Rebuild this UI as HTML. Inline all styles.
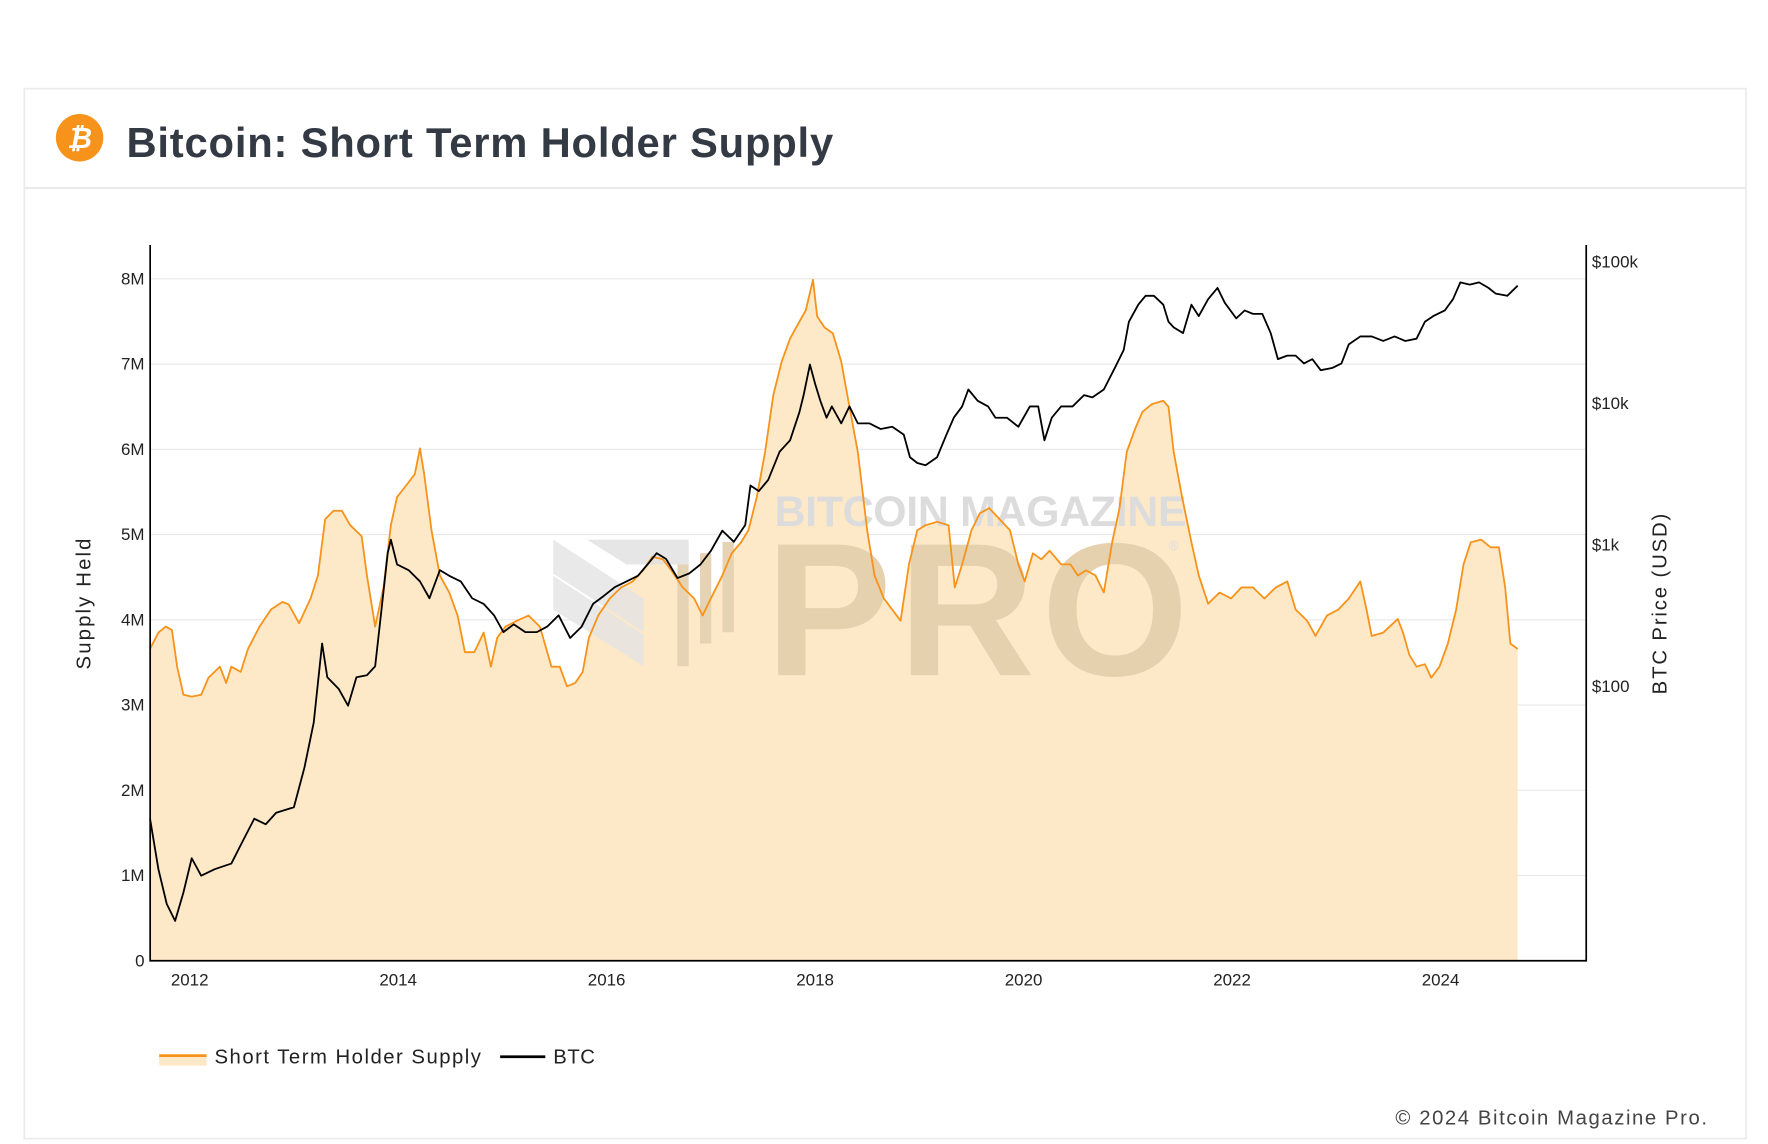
<!DOCTYPE html>
<html><head><meta charset="utf-8"><style>
html,body{margin:0;padding:0;background:#fff;}
svg{display:block;font-family:"Liberation Sans",sans-serif;}
</style></head><body>
<svg id="chart" width="1768" height="1144" viewBox="0 0 1566 1013.3" xmlns="http://www.w3.org/2000/svg">
<rect x="0" y="0" width="1566" height="1014" fill="#fff"/>
<rect x="21.5" y="78.5" width="1525" height="930" fill="#fff" stroke="#ebebeb" stroke-width="1.5"/>
<line x1="22" y1="166.5" x2="1546" y2="166.5" stroke="#ebebeb" stroke-width="2"/>
<g>
<circle cx="70.5" cy="122" r="21" fill="#f7931a"/>
<text x="70.5" y="131" text-anchor="middle" font-size="25" font-weight="bold" fill="#fff" font-style="italic">₿</text>
</g>
<text x="112" y="139" font-size="37" font-weight="bold" fill="#333a44" textLength="626">Bitcoin: Short Term Holder Supply</text>
<g id="grid"></g>
<g id="areaLayer"></g>
<g id="watermark">
<polygon points="490,478 570,530 570,560 490,508" fill="#e3e3e3" opacity="0.8"/>
<polygon points="490,510 570,562 570,590 490,540" fill="#e3e3e3" opacity="0.8"/>
<polygon points="520,478 610,478 610,500 555,500" fill="#e0e0e0" opacity="0.8"/>
<rect x="600" y="500" width="10" height="90" fill="#e6d3b3"/>
<rect x="620" y="490" width="10" height="80" fill="#e6d3b3"/>
<rect x="640" y="480" width="10" height="80" fill="#e6d3b3"/>
<text x="686" y="466" font-size="38" font-weight="bold" fill="#dcdcdc" textLength="365">BITCOIN MAGAZINE</text>
<text x="678" y="598" font-size="168" font-weight="bold" fill="#e6d1ae" textLength="375">PRO</text>
<text x="1035" y="487" font-size="12" fill="#ddd">®</text>
</g>
<g id="plot"></g>
<g id="axes"></g>
<g>
<g>
<rect x="141" y="936" width="42" height="8" fill="#fde8c8"/>
<line x1="141" y1="935" x2="183" y2="935" stroke="#f7931a" stroke-width="2.5"/>
<text x="190" y="942" font-size="18" fill="#222" textLength="236">Short Term Holder Supply</text>
</g>
<g>
<line x1="443" y1="936" x2="483" y2="936" stroke="#000" stroke-width="2.5"/>
<text x="490" y="942" font-size="18" fill="#222" textLength="37">BTC</text>
</g>
</g>
<text x="1236" y="996" font-size="18" fill="#444" textLength="276">© 2024 Bitcoin Magazine Pro.</text>
</svg>
<script>
const supplyDates=[2011.62,2011.70,2011.77,2011.83,2011.88,2011.94,2012.02,2012.11,2012.18,2012.29,2012.35,2012.40,2012.49,2012.56,2012.67,2012.78,2012.89,2012.95,2013.05,2013.16,2013.23,2013.30,2013.38,2013.46,2013.54,2013.65,2013.70,2013.78,2013.86,2013.93,2013.99,2014.08,2014.16,2014.21,2014.25,2014.32,2014.40,2014.49,2014.57,2014.64,2014.73,2014.82,2014.89,2014.95,2015.03,2015.14,2015.25,2015.36,2015.47,2015.55,2015.62,2015.70,2015.77,2015.83,2015.92,2016.03,2016.14,2016.25,2016.35,2016.44,2016.54,2016.62,2016.73,2016.84,2016.92,2017.00,2017.11,2017.20,2017.29,2017.36,2017.44,2017.52,2017.60,2017.68,2017.76,2017.85,2017.91,2017.98,2018.02,2018.09,2018.17,2018.25,2018.33,2018.41,2018.50,2018.57,2018.66,2018.74,2018.82,2018.90,2018.98,2019.06,2019.17,2019.28,2019.34,2019.41,2019.50,2019.58,2019.67,2019.77,2019.87,2019.95,2020.01,2020.09,2020.17,2020.25,2020.36,2020.45,2020.52,2020.60,2020.69,2020.77,2020.85,2020.92,2020.99,2021.07,2021.14,2021.23,2021.34,2021.39,2021.44,2021.52,2021.61,2021.68,2021.77,2021.88,2021.99,2022.09,2022.20,2022.31,2022.42,2022.53,2022.61,2022.72,2022.80,2022.91,2023.02,2023.12,2023.23,2023.29,2023.34,2023.45,2023.59,2023.64,2023.70,2023.77,2023.85,2023.91,2023.99,2024.07,2024.15,2024.22,2024.29,2024.39,2024.48,2024.56,2024.62,2024.67,2024.74];
const supplyValues=[3.66,3.85,3.92,3.88,3.45,3.12,3.10,3.12,3.32,3.45,3.26,3.45,3.39,3.66,3.92,4.12,4.21,4.18,3.96,4.25,4.52,5.18,5.28,5.28,5.11,4.98,4.52,3.92,4.38,5.11,5.44,5.58,5.71,6.01,5.71,5.05,4.52,4.32,4.05,3.62,3.62,3.85,3.45,3.79,3.92,3.99,4.05,3.92,3.45,3.45,3.22,3.26,3.39,3.79,4.05,4.25,4.38,4.45,4.58,4.74,4.71,4.58,4.38,4.25,4.05,4.25,4.52,4.78,4.91,5.05,5.44,5.97,6.64,7.03,7.30,7.50,7.63,7.99,7.56,7.43,7.36,7.03,6.50,5.97,5.05,4.52,4.25,4.12,3.99,4.65,5.05,5.11,5.15,5.11,4.38,4.65,5.05,5.25,5.31,5.18,5.05,4.65,4.45,4.78,4.71,4.81,4.65,4.65,4.52,4.58,4.52,4.32,4.91,5.31,5.97,6.24,6.44,6.53,6.57,6.50,5.97,5.44,4.91,4.52,4.19,4.32,4.25,4.38,4.38,4.25,4.38,4.45,4.12,3.99,3.81,4.05,4.12,4.25,4.45,4.12,3.81,3.85,4.01,3.85,3.59,3.45,3.48,3.32,3.45,3.72,4.12,4.65,4.91,4.94,4.85,4.85,4.38,3.72,3.66];
const btcDates=[2011.62,2011.70,2011.78,2011.86,2011.94,2012.02,2012.11,2012.24,2012.40,2012.51,2012.62,2012.73,2012.83,2013.00,2013.10,2013.19,2013.27,2013.32,2013.43,2013.52,2013.60,2013.70,2013.78,2013.84,2013.90,2013.93,2013.99,2014.10,2014.21,2014.30,2014.40,2014.49,2014.60,2014.71,2014.82,2014.92,2015.01,2015.11,2015.22,2015.33,2015.43,2015.54,2015.65,2015.76,2015.87,2015.97,2016.08,2016.19,2016.30,2016.41,2016.48,2016.57,2016.68,2016.79,2016.90,2017.00,2017.11,2017.22,2017.33,2017.38,2017.46,2017.55,2017.66,2017.76,2017.85,2017.89,2017.95,2018.00,2018.05,2018.11,2018.16,2018.25,2018.33,2018.41,2018.52,2018.63,2018.74,2018.85,2018.91,2018.98,2019.06,2019.17,2019.26,2019.33,2019.41,2019.47,2019.56,2019.66,2019.73,2019.84,2019.95,2020.06,2020.14,2020.20,2020.27,2020.36,2020.47,2020.58,2020.66,2020.77,2020.88,2020.96,2021.01,2021.10,2021.17,2021.25,2021.34,2021.39,2021.44,2021.53,2021.61,2021.68,2021.77,2021.86,2021.93,2022.04,2022.12,2022.20,2022.29,2022.37,2022.44,2022.53,2022.61,2022.69,2022.77,2022.85,2022.96,2023.05,2023.12,2023.23,2023.34,2023.45,2023.56,2023.66,2023.77,2023.85,2023.93,2024.04,2024.12,2024.19,2024.28,2024.37,2024.46,2024.53,2024.64,2024.74];
const btcPrices=[11.6,5.1,2.9,2.2,3.5,6.1,4.6,5.1,5.6,8.1,11.6,10.6,12.8,14,26.6,55.6,201,116,96,73,116,120,139,349,875,1090,728,664,552,420,664,605,552,420,383,318,242,275,242,242,265,318,220,265,383,435,504,552,605,755,875,798,584,628,728,908,1262,1052,1384,2636,2404,2884,4571,5495,8690,11455,18836,13770,10450,7930,9530,7240,9530,7240,7240,6600,6850,6020,4170,3800,3660,4170,6020,7930,9530,12560,10450,9530,7930,7930,6850,9530,9530,5495,7930,9530,9530,11455,11040,12560,18150,23900,37850,49900,57700,57700,49900,37850,34500,31500,49900,41500,54600,65600,51600,40000,45500,43050,43050,31500,20600,21800,21800,19200,20600,17200,17800,19200,26200,29800,29800,27700,29800,27700,28700,37850,41500,45500,54600,71900,69300,71900,65600,59800,57700,68100];
const leftTicks=[0,1,2,3,4,5,6,7,8];
const leftTickLabels=["0","1M","2M","3M","4M","5M","6M","7M","8M"];
const rightTicks=[100,1000,10000,100000];
const rightTickLabels=["$100","$1k","$10k","$100k"];
const xTicks=[2012,2014,2016,2018,2020,2022,2024];

const NS="http://www.w3.org/2000/svg";
const X0=133,X1=1405,Y0=851,Y1=217;
const xScale=y=>168+(y-2012)*92.33;
const ySupply=v=>851-v*75.5;
const yPrice=p=>608-125.3*(Math.log10(p)-2);
function mk(tag,attrs,parent){const e=document.createElementNS(NS,tag);for(const k in attrs)e.setAttribute(k,attrs[k]);parent.appendChild(e);return e;}
const grid=document.getElementById('grid'),plot=document.getElementById('plot'),axes=document.getElementById('axes'),areaLayer=document.getElementById('areaLayer');
leftTicks.forEach((v,i)=>{
  if(v>0){const g=mk('line',{x1:X0,x2:X1,y1:ySupply(v),y2:ySupply(v),stroke:'#e8e8e8','stroke-width':1},grid);
  
  }
  const t=mk('text',{x:X0-5,y:ySupply(v)+5,'text-anchor':'end','font-size':15,fill:'#222'},axes);t.textContent=leftTickLabels[i];
  
  
});
rightTicks.forEach((p,i)=>{
  const t=mk('text',{x:X1+5,y:yPrice(p)+5,'font-size':15,fill:'#222'},axes);t.textContent=rightTickLabels[i];
  
  
});
xTicks.forEach(yr=>{
  const t=mk('text',{x:xScale(yr),y:873,'text-anchor':'middle','font-size':15,fill:'#222'},axes);t.textContent=yr;
  
  
});
let pts=supplyDates.map((d,i)=>xScale(d).toFixed(1)+','+ySupply(supplyValues[i]).toFixed(1));
const area=mk('polygon',{points:xScale(supplyDates[0])+','+Y0+' '+pts.join(' ')+' '+xScale(supplyDates[supplyDates.length-1])+','+Y0,fill:'#fde8c8'},areaLayer);


const sl=mk('polyline',{points:pts.join(' '),fill:'none',stroke:'#f7931a','stroke-width':1.6,'stroke-linejoin':'round'},plot);


const bp=btcDates.map((d,i)=>xScale(d).toFixed(1)+','+yPrice(btcPrices[i]).toFixed(1));
const bl=mk('polyline',{points:bp.join(' '),fill:'none',stroke:'#000','stroke-width':1.6,'stroke-linejoin':'round'},plot);


const al=mk('path',{d:`M${X0},${Y1}V${Y0}H${X1}V${Y1}`,fill:'none',stroke:'#000','stroke-width':1.5},axes);


const lt=mk('text',{transform:'translate(80,535) rotate(-90)','text-anchor':'middle','font-size':18,fill:'#222',textLength:116},axes);lt.textContent='Supply Held';


const rt=mk('text',{transform:'translate(1476,535) rotate(-90)','text-anchor':'middle','font-size':18,fill:'#222',textLength:160},axes);rt.textContent='BTC Price (USD)';


</script>
</body></html>
